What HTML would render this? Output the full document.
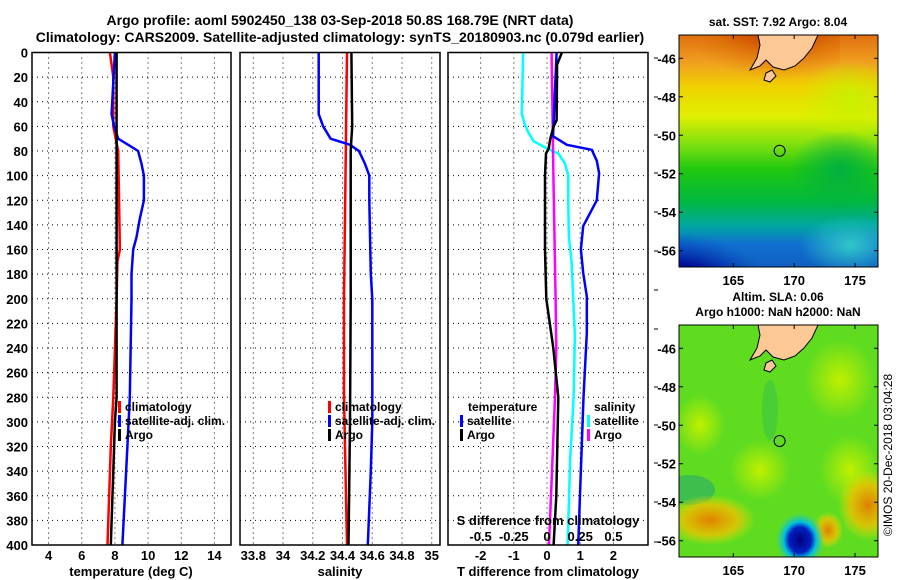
<!DOCTYPE html>
<html><head><meta charset="utf-8"><style>
body{margin:0;background:#fff;}
svg{display:block;font-family:"Liberation Sans",sans-serif;font-weight:bold;}
</style></head><body>
<svg id="c" width="900" height="580" viewBox="0 0 900 580">
<defs>
<linearGradient id="sstg" x1="0" y1="0" x2="0" y2="1">
<stop offset="0" stop-color="#e07010"/><stop offset="0.12" stop-color="#f0a020"/>
<stop offset="0.22" stop-color="#f0d000"/><stop offset="0.35" stop-color="#e0f000"/>
<stop offset="0.47" stop-color="#80e010"/><stop offset="0.58" stop-color="#20c810"/>
<stop offset="0.72" stop-color="#00b840"/><stop offset="0.82" stop-color="#00a8a0"/>
<stop offset="0.9" stop-color="#1070d0"/><stop offset="1" stop-color="#1060c0"/>
</linearGradient>
<radialGradient id="redc" cx="0.6" cy="0" r="0.7"><stop offset="0" stop-color="#a01000"/><stop offset="0.5" stop-color="#d05000" stop-opacity="0.8"/><stop offset="1" stop-color="#e08000" stop-opacity="0"/></radialGradient>
<radialGradient id="navy" cx="0.15" cy="1" r="0.6"><stop offset="0" stop-color="#000080"/><stop offset="0.6" stop-color="#000090" stop-opacity="0.85"/><stop offset="1" stop-color="#0040c0" stop-opacity="0"/></radialGradient>
<radialGradient id="soft" cx="0.5" cy="0.5" r="0.5"><stop offset="0" stop-color="#c8f000"/><stop offset="1" stop-color="#c8f000" stop-opacity="0"/></radialGradient>
<radialGradient id="softg" cx="0.5" cy="0.5" r="0.5"><stop offset="0" stop-color="#00b040"/><stop offset="1" stop-color="#00b040" stop-opacity="0"/></radialGradient>
<radialGradient id="softc" cx="0.5" cy="0.5" r="0.5"><stop offset="0" stop-color="#30c8c8"/><stop offset="1" stop-color="#30c8c8" stop-opacity="0"/></radialGradient>
<radialGradient id="yel" cx="0.5" cy="0.5" r="0.5"><stop offset="0" stop-color="#c0f000"/><stop offset="1" stop-color="#c0f000" stop-opacity="0"/></radialGradient>
<radialGradient id="org" cx="0.5" cy="0.5" r="0.5"><stop offset="0" stop-color="#e08000"/><stop offset="0.6" stop-color="#f0c000" stop-opacity="0.8"/><stop offset="1" stop-color="#f0e000" stop-opacity="0"/></radialGradient>
<radialGradient id="blu" cx="0.5" cy="0.5" r="0.5"><stop offset="0" stop-color="#000080"/><stop offset="0.45" stop-color="#0020c0"/><stop offset="0.65" stop-color="#00c0e0"/><stop offset="1" stop-color="#40d080" stop-opacity="0"/></radialGradient>
<clipPath id="m1"><rect x="679" y="35" width="199" height="232"/></clipPath>
<clipPath id="m2"><rect x="679" y="325" width="199" height="232"/></clipPath>
</defs>
<g id="titles" font-size="14" text-anchor="middle">
<text x="340" y="25">Argo profile: aoml 5902450_138 03-Sep-2018 50.8S 168.79E (NRT data)</text>
<text x="340" y="42">Climatology: CARS2009. Satellite-adjusted climatology: synTS_20180903.nc (0.079d earlier)</text>
</g>
<g id="plots"></g>
<g id="maps">
<g clip-path="url(#m1)">
<rect x="679" y="35" width="199" height="232" fill="url(#sstg)"/>
<rect x="690" y="10" width="150" height="100" fill="url(#redc)"/>
<rect x="640" y="180" width="190" height="130" fill="url(#navy)"/>
<ellipse cx="850" cy="100" rx="50" ry="40" fill="url(#soft)"/>
<ellipse cx="840" cy="170" rx="50" ry="40" fill="url(#softg)"/>
<ellipse cx="850" cy="245" rx="50" ry="30" fill="url(#softc)"/>
<polygon points="758,35 818,35 812,48 804,58 795,66 784,70 773,67 766,60 760,66 750,70 757,58 760,45" fill="#fcc896" stroke="#000" stroke-width="1"/>
<polygon points="766,73 772,70 776,76 770,82 764,80" fill="#fcc896" stroke="#000" stroke-width="1"/>
<circle cx="779.6" cy="150.7" r="5.5" fill="none" stroke="#000" stroke-width="1"/>
</g>
<rect x="679" y="35" width="199" height="232" fill="none" stroke="#000" stroke-width="1"/>
<g clip-path="url(#m2)">
<rect x="679" y="325" width="199" height="232" fill="#60dc20"/>
<ellipse cx="700" cy="425" rx="25" ry="30" fill="url(#yel)"/>
<ellipse cx="840" cy="380" rx="35" ry="40" fill="url(#yel)"/>
<ellipse cx="760" cy="470" rx="30" ry="30" fill="url(#yel)"/>
<ellipse cx="850" cy="470" rx="30" ry="35" fill="url(#yel)"/>
<ellipse cx="770" cy="410" rx="8" ry="30" fill="#40c840" opacity="0.7"/>
<ellipse cx="690" cy="490" rx="25" ry="15" fill="#30b060" opacity="0.7"/>
<ellipse cx="710" cy="520" rx="45" ry="25" fill="url(#org)"/>
<ellipse cx="868" cy="505" rx="30" ry="35" fill="url(#org)"/>
<ellipse cx="828" cy="530" rx="15" ry="18" fill="url(#org)"/>
<ellipse cx="800" cy="540" rx="25" ry="28" fill="url(#blu)"/>
<polygon points="758,325 818,325 812,338 804,348 795,356 784,360 773,357 766,350 760,356 750,360 757,348 760,335" fill="#fcc896" stroke="#000" stroke-width="1"/>
<polygon points="766,363 772,360 776,366 770,372 764,370" fill="#fcc896" stroke="#000" stroke-width="1"/>
<circle cx="779.6" cy="441" r="5.5" fill="none" stroke="#000" stroke-width="1"/>
</g>
<rect x="679" y="325" width="199" height="232" fill="none" stroke="#000" stroke-width="1"/>
<g font-size="12" text-anchor="middle">
<text x="778" y="26">sat. SST: 7.92 Argo: 8.04</text>
<text x="778" y="301">Altim. SLA: 0.06</text>
<text x="778" y="316">Argo h1000: NaN h2000: NaN</text>
</g>
<text transform="translate(892,455) rotate(-90)" font-size="12" font-weight="normal" text-anchor="middle">©IMOS 20-Dec-2018 03:04:28</text>
</g>
</svg>
<script>
// ---- data ----
const tempDepth = [0,20,60,80,160,170,200,280,320,400];
const tempClim  = [7.7,7.9,7.9,8.2,8.3,8.15,8.1,7.9,7.75,7.55];
const tempSatDepth = [0,50,60,70,75,80,90,100,120,135,150,160,180,200,280,320,360,400];
const tempSat      = [8.0,7.8,7.95,8.2,8.8,9.4,9.6,9.75,9.75,9.5,9.3,9.1,9.0,9.0,8.9,8.75,8.6,8.45];
const tempArgoDepth = [0,60,80,200,280,300,340,400];
const tempArgo      = [8.1,8.1,8.1,8.1,8.1,8.0,7.9,7.75];
const salClimDepth = [0,100,200,280,400];
const salClim      = [34.43,34.42,34.41,34.41,34.43];
const salArgoDepth = [0,60,70,80,200,300,400];
const salArgo      = [34.46,34.465,34.46,34.455,34.455,34.45,34.44];
const salSatDepth = [0,50,60,70,75,80,90,100,120,180,200,300,340,400];
const salSat      = [34.24,34.24,34.27,34.32,34.45,34.51,34.55,34.58,34.58,34.59,34.6,34.6,34.59,34.57];
const dTSatDepth = [0,68,75,79,88,98,120,141,160,179,198,228,280,400];
const dTSat      = [0.29,0.18,0.6,1.35,1.5,1.57,1.5,1.09,1.02,1.09,1.2,1.2,1.1,0.94];
const dTArgoDepth = [0,10,20,55,60,70,78,82,100,160,200,240,280,320,360,400];
const dTArgo      = [0.45,0.3,0.3,0.29,0.2,0.1,0.05,-0.03,-0.06,-0.06,-0.02,0.19,0.34,0.31,0.28,0.2];
const dSArgoDepth = [0,100,200,240,280,400];
const dSArgo      = [0.035,0.048,0.065,0.07,0.06,0.015];
const dSSatDepth = [0,50,59,65,72,78,82,90,100,120,150,170,230,280,330,400];
const dSSat      = [-0.18,-0.19,-0.165,-0.14,-0.1,0,0.085,0.135,0.16,0.16,0.165,0.185,0.21,0.2,0.175,0.155];
const depthTicks = [0,20,40,60,80,100,120,140,160,180,200,220,240,260,280,300,320,340,360,380,400];
const tempTicks = [4,6,8,10,12,14];
const salTicks = [33.8,34,34.2,34.4,34.6,34.8,35];
const salTickLabels = ["33.8","34","34.2","34.4","34.6","34.8","35"];
const dTTicks = [-2,-1,0,1,2];
const dSTicks = [-0.5,-0.25,0,0.25,0.5];
const dSTickLabels = ["-0.5","-0.25","0","0.25","0.5"];
const latTicks = [-46,-48,-50,-52,-54,-56];
const lonTicks = [165,170,175];

// ---- scales ----
const TOP=52.5, BOT=545;
const y = d => TOP + d*(BOT-TOP)/400;
const xT = v => 32 + (v-3)*(231-32)/12;
const xS = v => 253.3 + (v-33.8)*148.7;
const xD = v => 547 + v*33.2;
const xDS = v => 547 + v*132.8;
const latY = (lat, top) => top + 23.3 + (-46-lat)*19.24;
const lonX = lon => 733.3 + (lon-165)*12.17;

const NS='http://www.w3.org/2000/svg';
const root=document.getElementById('plots');
function mk(tag, attrs, parent){const e=document.createElementNS(NS,tag);for(const k in attrs)e.setAttribute(k,attrs[k]);(parent||root).appendChild(e);return e;}

const panels=[{l:32,r:231,name:'temperature-panel'},{l:240,r:440,name:'salinity-panel'},{l:448,r:648,name:'difference-panel'}];

function grid(p, xs){
  const g=mk('g',{});
  
  
  xs.forEach(x=>mk('line',{x1:x,x2:x,y1:TOP,y2:BOT,stroke:'#000','stroke-width':1,'stroke-dasharray':'1,4'},g));
  depthTicks.forEach(d=>mk('line',{x1:p.l,x2:p.r,y1:y(d),y2:y(d),stroke:'#000','stroke-width':1,'stroke-dasharray':'1,4'},g));
}
function frame(p){
  const r=mk('rect',{x:p.l,y:TOP,width:p.r-p.l,height:BOT-TOP,fill:'none',stroke:'#000','stroke-width':1.5});
  
  
}
function line(depths, vals, sx, color, name){
  const pts=depths.map((d,i)=>sx(vals[i]).toFixed(1)+','+y(d).toFixed(1)).join(' ');
  const e=mk('polyline',{points:pts,fill:'none',stroke:color,'stroke-width':2.5});
  
  
}
function txt(x,yy,s,anchor,size,name){
  const e=mk('text',{x:x,y:yy,'text-anchor':anchor||'middle','font-size':size||13});
  e.textContent=s;
  
  
  return e;
}

grid(panels[0], tempTicks.map(xT));
grid(panels[1], salTicks.map(xS));
grid(panels[2], dTTicks.map(xD));

line(tempDepth,tempClim,xT,'#ff0000','temp-climatology-line');
line(tempSatDepth,tempSat,xT,'#0000ff','temp-satellite-line');
line(tempArgoDepth,tempArgo,xT,'#000000','temp-argo-line');
line(salClimDepth,salClim,xS,'#ff0000','sal-climatology-line');
line(salSatDepth,salSat,xS,'#0000ff','sal-satellite-line');
line(salArgoDepth,salArgo,xS,'#000000','sal-argo-line');
line(dSSatDepth,dSSat,xDS,'#00ffff','ds-satellite-line');
line(dSArgoDepth,dSArgo,xDS,'#ff00ff','ds-argo-line');
line(dTSatDepth,dTSat,xD,'#0000ff','dt-satellite-line');
line(dTArgoDepth,dTArgo,xD,'#000000','dt-argo-line');

panels.forEach(frame);

depthTicks.forEach(d=>txt(28,y(d)+5,String(d),'end',13,'depth-tick-label'));
tempTicks.forEach(v=>txt(xT(v),560,String(v),'middle',13,'temp-tick-label'));
salTicks.forEach((v,i)=>txt(xS(v),560,salTickLabels[i],'middle',13,'sal-tick-label'));
dTTicks.forEach(v=>txt(xD(v),560,String(v),'middle',13,'dt-tick-label'));
dSTicks.forEach((v,i)=>txt(xDS(v),541,dSTickLabels[i],'middle',13,'ds-tick-label'));
txt(548,525,'S difference from climatology','middle',13,'ds-axis-title');
txt(131,576,'temperature (deg C)','middle',13,'x-axis-title-temperature');
txt(340,576,'salinity','middle',13,'x-axis-title-salinity');
txt(548,576,'T difference from climatology','middle',13,'x-axis-title-difference');

[58,97,135,173,212,251,290,329,387,425,463,502,542].forEach(yy=>mk('line',{x1:654,x2:658,y1:yy,y2:yy,stroke:'#000','stroke-width':1}));

function legend(x,yy,color,label){
  const g=mk('g',{});
  
  
  mk('rect',{x:x,y:yy-10,width:3,height:12,fill:color},g);
  const t=mk('text',{x:x+7,y:yy,'font-size':12},g);t.textContent=label;
}
[[118,'#ff0000','climatology'],[118,'#0000ff','satellite-adj. clim.'],[118,'#000000','Argo']].forEach((e,i)=>legend(e[0],411+i*14,e[1],e[2]));
[[328,'#ff0000','climatology'],[328,'#0000ff','satellite-adj. clim.'],[328,'#000000','Argo']].forEach((e,i)=>legend(e[0],411+i*14,e[1],e[2]));
txt(468,411,'temperature','start',12,'legend-title-temperature');
legend(460,425,'#0000ff','satellite');legend(460,439,'#000000','Argo');
txt(594,411,'salinity','start',12,'legend-title-salinity');
legend(587,425,'#00ffff','satellite');legend(587,439,'#ff00ff','Argo');

const maps=document.getElementById('maps');
[35,325].forEach((top,mi)=>{
  latTicks.forEach(lat=>{
    const yy=latY(lat,top);
    mk('line',{x1:679,x2:683,y1:yy,y2:yy,stroke:'#000'},maps);
    mk('line',{x1:874,x2:878,y1:yy,y2:yy,stroke:'#000'},maps);
    const t=mk('text',{x:676,y:yy+5,'text-anchor':'end','font-size':13},maps);t.textContent=String(lat);
    
    
  });
  lonTicks.forEach(lon=>{
    const xx=lonX(lon);
    mk('line',{x1:xx,x2:xx,y1:top,y2:top+4,stroke:'#000'},maps);
    mk('line',{x1:xx,x2:xx,y1:top+228,y2:top+232,stroke:'#000'},maps);
    const t=mk('text',{x:xx,y:top+250,'text-anchor':'middle','font-size':13},maps);t.textContent=String(lon);
    
    
  });
});
</script>
</body></html>
